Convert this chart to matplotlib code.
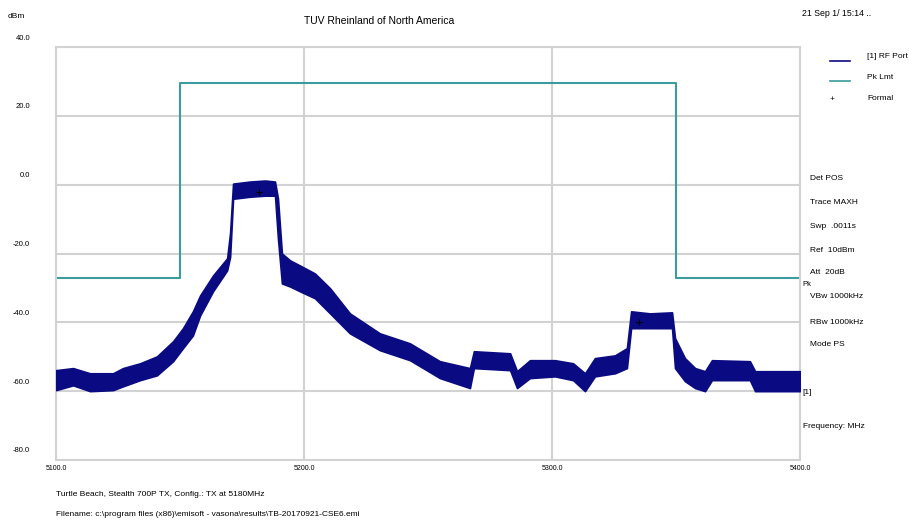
import matplotlib
matplotlib.use("Agg")
import matplotlib.pyplot as plt
import matplotlib.transforms as mtransforms

plt.rcParams['font.family'] = ['Liberation Sans Narrow', 'Liberation Sans', 'DejaVu Sans']

# trace envelope (MHz, upper dBm, lower dBm)
trace_freq = [5100.0, 5106.9, 5113.7, 5123.0, 5127.0, 5133.9, 5140.7, 5147.2, 5151.2, 5155.2,
              5158.1, 5163.3, 5169.0, 5170.2, 5171.4, 5178.2, 5184.3, 5188.3, 5189.5, 5191.1,
              5194.4, 5198.4, 5204.4, 5210.5, 5218.5, 5230.6, 5242.7, 5254.8, 5266.9, 5268.5,
              5283.1, 5285.9, 5291.1, 5301.2, 5308.5, 5313.3, 5317.3, 5325.4, 5330.2, 5331.9,
              5339.5, 5348.4, 5349.6, 5353.6, 5357.7, 5361.7, 5364.5, 5379.8, 5381.9, 5400.0]
trace_hi = [-53.9, -53.3, -54.8, -54.8, -53.3, -51.9, -49.9, -45.5, -41.7, -36.8,
            -32.2, -26.4, -21.4, -14.0, 0.3, 0.9, 1.2, 0.9, -4.0, -20.0,
            -22.0, -23.5, -25.8, -30.1, -37.4, -43.2, -46.1, -51.3, -53.3, -48.4,
            -49.0, -54.2, -51.0, -51.0, -51.9, -54.8, -50.4, -49.6, -47.5, -36.8,
            -37.4, -37.1, -44.6, -50.4, -53.3, -54.2, -51.0, -51.3, -54.2, -54.2]
trace_lo = [-59.7, -58.3, -60.0, -59.7, -58.6, -56.8, -55.4, -51.3, -47.5, -43.8,
            -38.0, -31.0, -24.9, -21.0, -4.1, -3.5, -3.2, -3.2, -15.7, -28.7,
            -29.6, -31.0, -33.0, -37.4, -43.2, -48.1, -51.0, -56.2, -59.1, -53.3,
            -53.9, -59.1, -56.2, -55.7, -56.8, -60.0, -55.7, -54.8, -53.3, -41.7,
            -41.7, -41.7, -53.3, -57.1, -59.1, -60.0, -56.8, -56.8, -60.0, -60.0]

# peak limit (steps)
limit_freq = [5100, 5150, 5350, 5400]
limit_level = [-27.0, 29.5, -27.0, -27.0]

# formal markers
formal_freq = [5182, 5335]
formal_level = [-2.0, -40.0]

y_ticks = [40, 20, 0, -20, -40, -60, -80]
x_ticks = [5100, 5200, 5300, 5400]

side_info = [("Det POS", 178), ("Trace MAXH", 203), ("Swp  .0011s", 227),
             ("Ref  10dBm", 250), ("Att  20dB", 273), ("VBw 1000kHz", 297),
             ("RBw 1000kHz", 322), ("Mode PS", 345)]

navy = '#0a0a82'
teal = '#3a9c9c'
grid_c = '#d2d2d2'

W, H = 909, 525
fig = plt.figure(figsize=(W / 100, H / 100), dpi=100)
ax = fig.add_axes([56 / W, 1 - 460 / H, 744 / W, 413 / H])


def fx(px):
    return px / W


def fy(py):
    return 1 - py / H


ax.fill_between(trace_freq, trace_lo, trace_hi, color=navy, linewidth=1.2, edgecolor=navy, zorder=3)
ax.plot(limit_freq, limit_level, drawstyle='steps-post', color=teal, lw=1.5, zorder=2)
ax.plot(formal_freq, formal_level, '+', color='black', ms=4, mew=0.8, zorder=4)

ax.set_xlim(5100, 5400)
ax.set_ylim(-80, 40)
ax.set_xticks(x_ticks)
ax.set_yticks(y_ticks)
ax.grid(True, color=grid_c, lw=1.5, zorder=0)
ax.tick_params(length=0, labelleft=False, labelbottom=False)
for s in ax.spines.values():
    s.set_color(grid_c)
    s.set_linewidth(1.5)

# tick labels
trans_y = mtransforms.blended_transform_factory(ax.transAxes, ax.transData)
for v in y_ticks:
    ax.annotate(f"{v:.1f}", xy=(0, v), xycoords=trans_y, xytext=(-26, 9),
                textcoords='offset pixels', ha='right', va='center', fontsize=5.5)
trans_x = mtransforms.blended_transform_factory(ax.transData, ax.transAxes)
for v in x_ticks:
    ax.annotate(f"{v:.1f}", xy=(v, 0), xycoords=trans_x, xytext=(0, -8),
                textcoords='offset pixels', ha='center', va='center', fontsize=5)

# header texts
fig.text(fx(379), fy(21), "TUV Rheinland of North America", ha='center', va='center', fontsize=7.5)
fig.text(fx(8), fy(16), "dBm", ha='left', va='center', fontsize=6)
fig.text(fx(802), fy(13), "21 Sep 1/ 15:14 ..", ha='left', va='center', fontsize=6.3)

# legend
fig.add_artist(plt.Line2D([fx(830), fx(850)], [fy(61), fy(61)], color=navy, lw=1.2))
fig.add_artist(plt.Line2D([fx(830), fx(850)], [fy(81), fy(81)], color=teal, lw=1.2))
fig.text(fx(832), fy(100), "+", ha='center', va='center', fontsize=6)
fig.text(fx(867), fy(56), "[1] RF Port", ha='left', va='center', fontsize=6)
fig.text(fx(867), fy(77), "Pk Lmt", ha='left', va='center', fontsize=6)
fig.text(fx(867), fy(98), "Formal", ha='left', va='center', fontsize=6)

for label, py in side_info:
    fig.text(fx(810), fy(py), label, ha='left', va='center', fontsize=6)
fig.text(fx(802), fy(284), "Pk", ha='left', va='center', fontsize=5.5)
fig.text(fx(802), fy(393), "[1]", ha='left', va='center', fontsize=6)
fig.text(fx(803), fy(426), "Frequency: MHz", ha='left', va='center', fontsize=6)

# footer
fig.text(fx(56), fy(494), "Turtle Beach, Stealth 700P TX, Config.: TX at 5180MHz",
         ha='left', va='center', fontsize=6)
fig.text(fx(56), fy(514), "Filename: c:\\program files (x86)\\emisoft - vasona\\results\\TB-20170921-CSE6.emi",
         ha='left', va='center', fontsize=6)

fig.savefig("out.png", dpi=100)
